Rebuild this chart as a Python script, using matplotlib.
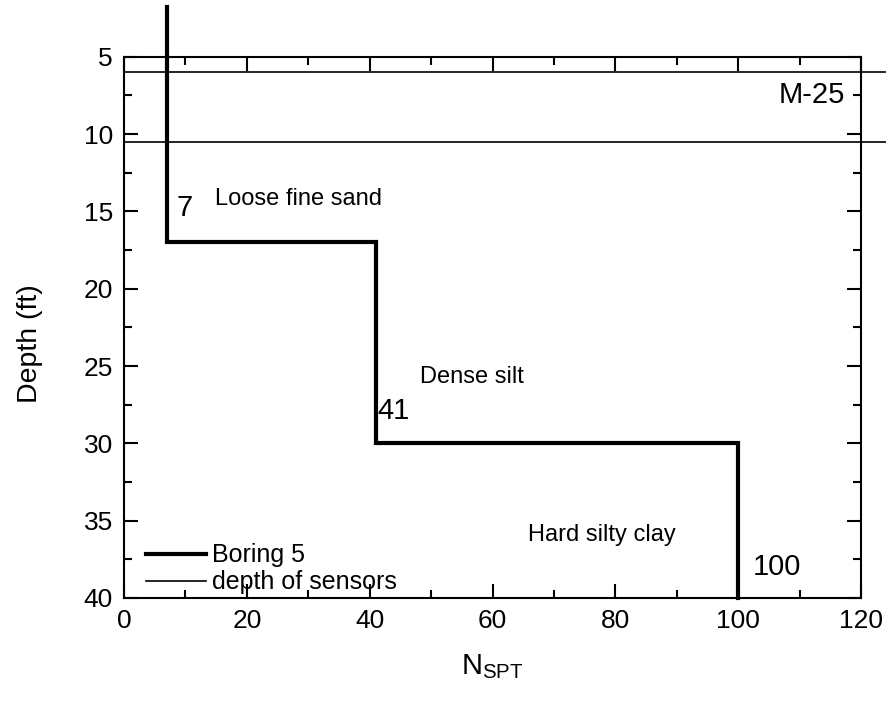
import matplotlib
matplotlib.use('Agg')
import matplotlib.pyplot as plt
from matplotlib.ticker import MultipleLocator

# SPT blow counts by layer (Boring 5)
boring_n = [7, 7, 41, 41, 100, 100]
boring_depth = [1.8, 17, 17, 30, 30, 40]

# sensor depths at station M-25
sensor_depths = [6, 10.5]
sensor_span = [0, 124]

layer_labels = ['Loose fine sand', 'Dense silt', 'Hard silty clay']
layer_pos = [(14.8, 14.2), (48.2, 25.7), (65.8, 35.9)]
n_labels = ['7', '41', '100']
n_pos = [(8.6, 14.8), (41.2, 27.9), (102.3, 38.0)]

plt.rcParams['font.family'] = ['Liberation Sans', 'DejaVu Sans']
plt.rcParams['mathtext.default'] = 'regular'

fig = plt.figure(figsize=(8.86, 7.01), dpi=100)
ax = fig.add_axes([0.14, 0.147, 0.832, 0.772])

ax.plot(boring_n, boring_depth, color='black', lw=3, clip_on=False,
        label='Boring 5', solid_joinstyle='miter', zorder=3)
for i, d in enumerate(sensor_depths):
    ax.plot(sensor_span, [d, d], color='black', lw=1.2, clip_on=False,
            label='depth of sensors' if i == 0 else None)

ax.text(117.4, 7.5, 'M-25', fontsize=21, ha='right', va='center')
for txt, (x, y) in zip(layer_labels, layer_pos):
    ax.text(x, y, txt, fontsize=17, ha='left', va='center')
for txt, (x, y) in zip(n_labels, n_pos):
    ax.text(x, y, txt, fontsize=21, ha='left', va='center')

ax.set_xlim(0, 120)
ax.set_ylim(40, 5)
ax.xaxis.set_major_locator(MultipleLocator(20))
ax.xaxis.set_minor_locator(MultipleLocator(10))
ax.yaxis.set_major_locator(MultipleLocator(5))
ax.yaxis.set_minor_locator(MultipleLocator(2.5))
ax.tick_params(which='both', direction='in', top=True, right=True,
               width=1.5, labelsize=19, pad=8)
ax.tick_params(which='major', length=10)
ax.tick_params(which='minor', length=6)
for s in ax.spines.values():
    s.set_linewidth(1.5)

ax.set_xlabel('$N_{SPT}$', fontsize=21)
ax.set_ylabel('Depth (ft)', fontsize=20.5)
ax.xaxis.set_label_coords(0.5, -0.1)
ax.yaxis.set_label_coords(-0.11, 0.47)

ax.legend(loc='lower left', frameon=False, fontsize=18, handlelength=2.4,
          handletextpad=0.25, labelspacing=0.12, borderaxespad=0.0,
          bbox_to_anchor=(0.016, -0.012))

fig.savefig('out.png', dpi=100)
